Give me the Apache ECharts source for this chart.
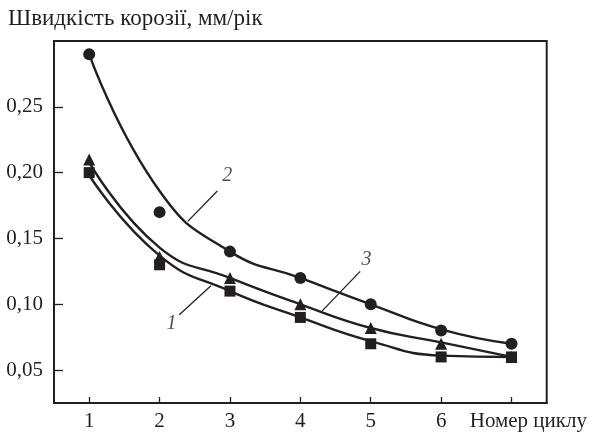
<!DOCTYPE html>
<html>
<head>
<meta charset="utf-8">
<script src="https://cdn.jsdelivr.net/npm/echarts@6/dist/echarts.min.js"></script>
<style>html,body{margin:0;padding:0;background:#fff}#c{width:590px;height:435px}</style>
</head>
<body>
<div id="c"></div>
<script>
// ---- data ----
const cycles = [1, 2, 3, 4, 5, 6, 7];
const yTicks = [0.05, 0.10, 0.15, 0.20, 0.25];
const xTicks = [1, 2, 3, 4, 5, 6, 7];
const xLabels = [1, 2, 3, 4, 5, 6];
// measured points
const squares1 = [0.20, 0.13, 0.11, 0.09, 0.07, 0.06, 0.06];
const circles2 = [0.29, 0.17, 0.14, 0.12, 0.10, 0.08, 0.07];
const triangles3 = [0.21, 0.136, 0.12, 0.10, 0.082, 0.07, 0.06];
// fitted curves (read at each cycle)
const curve1 = [0.198, 0.137, 0.11, 0.09, 0.072, 0.061, 0.06];
const curve2 = [0.29, 0.186, 0.14, 0.12, 0.10, 0.081, 0.07];
const curve3 = [0.208, 0.143, 0.12, 0.10, 0.082, 0.071, 0.06];
// curve annotations
const curveNames = ['1', '2', '3'];
const leaderFrom = [[2.28, 0.092], [2.40, 0.163], [4.31, 0.095]];
const leaderTo = [[2.73, 0.114], [2.82, 0.186], [4.85, 0.125]];
const namePos = [[2.17, 0.085], [2.96, 0.198], [4.94, 0.134]];

const INK = '#231f20';
const FONT = 'Liberation Serif';
const pairs = (ys) => cycles.map((x, i) => [x, ys[i]]);

const series = [];
[curve1, curve2, curve3].forEach(c => series.push({
  type: 'line', data: pairs(c), smooth: 0.5, showSymbol: false, silent: true,
  lineStyle: { color: INK, width: 2.4 }, z: 2
}));
series.push({ type: 'scatter', data: pairs(triangles3), symbol: 'triangle', symbolSize: 12,
  itemStyle: { color: INK, opacity: 1 }, z: 3 });
series.push({ type: 'scatter', data: pairs(squares1), symbol: 'rect', symbolSize: 11,
  itemStyle: { color: INK, opacity: 1 }, z: 4 });
series.push({ type: 'scatter', data: pairs(circles2), symbol: 'circle', symbolSize: 12,
  itemStyle: { color: INK, opacity: 1 }, z: 4 });
curveNames.forEach((n, i) => {
  series.push({ type: 'line', data: [leaderFrom[i], leaderTo[i]], showSymbol: false, silent: true,
    lineStyle: { color: INK, width: 1.3 }, z: 2 });
});
series.push({ type: 'scatter', symbolSize: 0, silent: true,
  data: curveNames.map((n, i) => ({ name: n, value: namePos[i] })),
  label: { show: true, position: 'inside', formatter: p => p.name,
    fontFamily: FONT, fontStyle: 'italic', fontSize: 20, color: INK } });

const chart = echarts.init(document.getElementById('c'), null, { renderer: 'canvas' });
chart.setOption({
  animation: false,
  backgroundColor: '#fff',
  title: { text: 'Швидкість корозії, мм/рік', left: 3, top: 2,
    textStyle: { fontFamily: FONT, fontSize: 23, fontWeight: 'normal', color: INK } },
  grid: { left: 54, right: 43, top: 41, bottom: 32, show: true,
    borderColor: INK, borderWidth: 2, backgroundColor: 'transparent' },
  xAxis: {
    type: 'value', min: 0.5, max: 7.5,
    name: 'Номер циклу', nameLocation: 'end', nameGap: -77,
    nameTextStyle: { fontFamily: FONT, fontSize: 21, color: INK, align: 'left',
      verticalAlign: 'top', padding: [8, 0, 0, 0] },
    axisLine: { lineStyle: { color: INK, width: 2 } },
    axisTick: { inside: true, length: 6, customValues: xTicks, lineStyle: { color: INK, width: 1.3 } },
    axisLabel: { customValues: xLabels, margin: 8, fontFamily: FONT, fontSize: 21, color: INK },
    splitLine: { show: false }
  },
  yAxis: {
    type: 'value', min: 0.025, max: 0.30,
    axisLine: { show: true, lineStyle: { color: INK, width: 2 } },
    axisTick: { show: true, inside: true, length: 9, customValues: yTicks, lineStyle: { color: INK, width: 1.3 } },
    axisLabel: { customValues: yTicks, margin: 11, fontFamily: FONT, fontSize: 21, color: INK,
      formatter: v => v.toFixed(2).replace('.', ',') },
    splitLine: { show: false }
  },
  series: series
});
</script>
</body>
</html>
